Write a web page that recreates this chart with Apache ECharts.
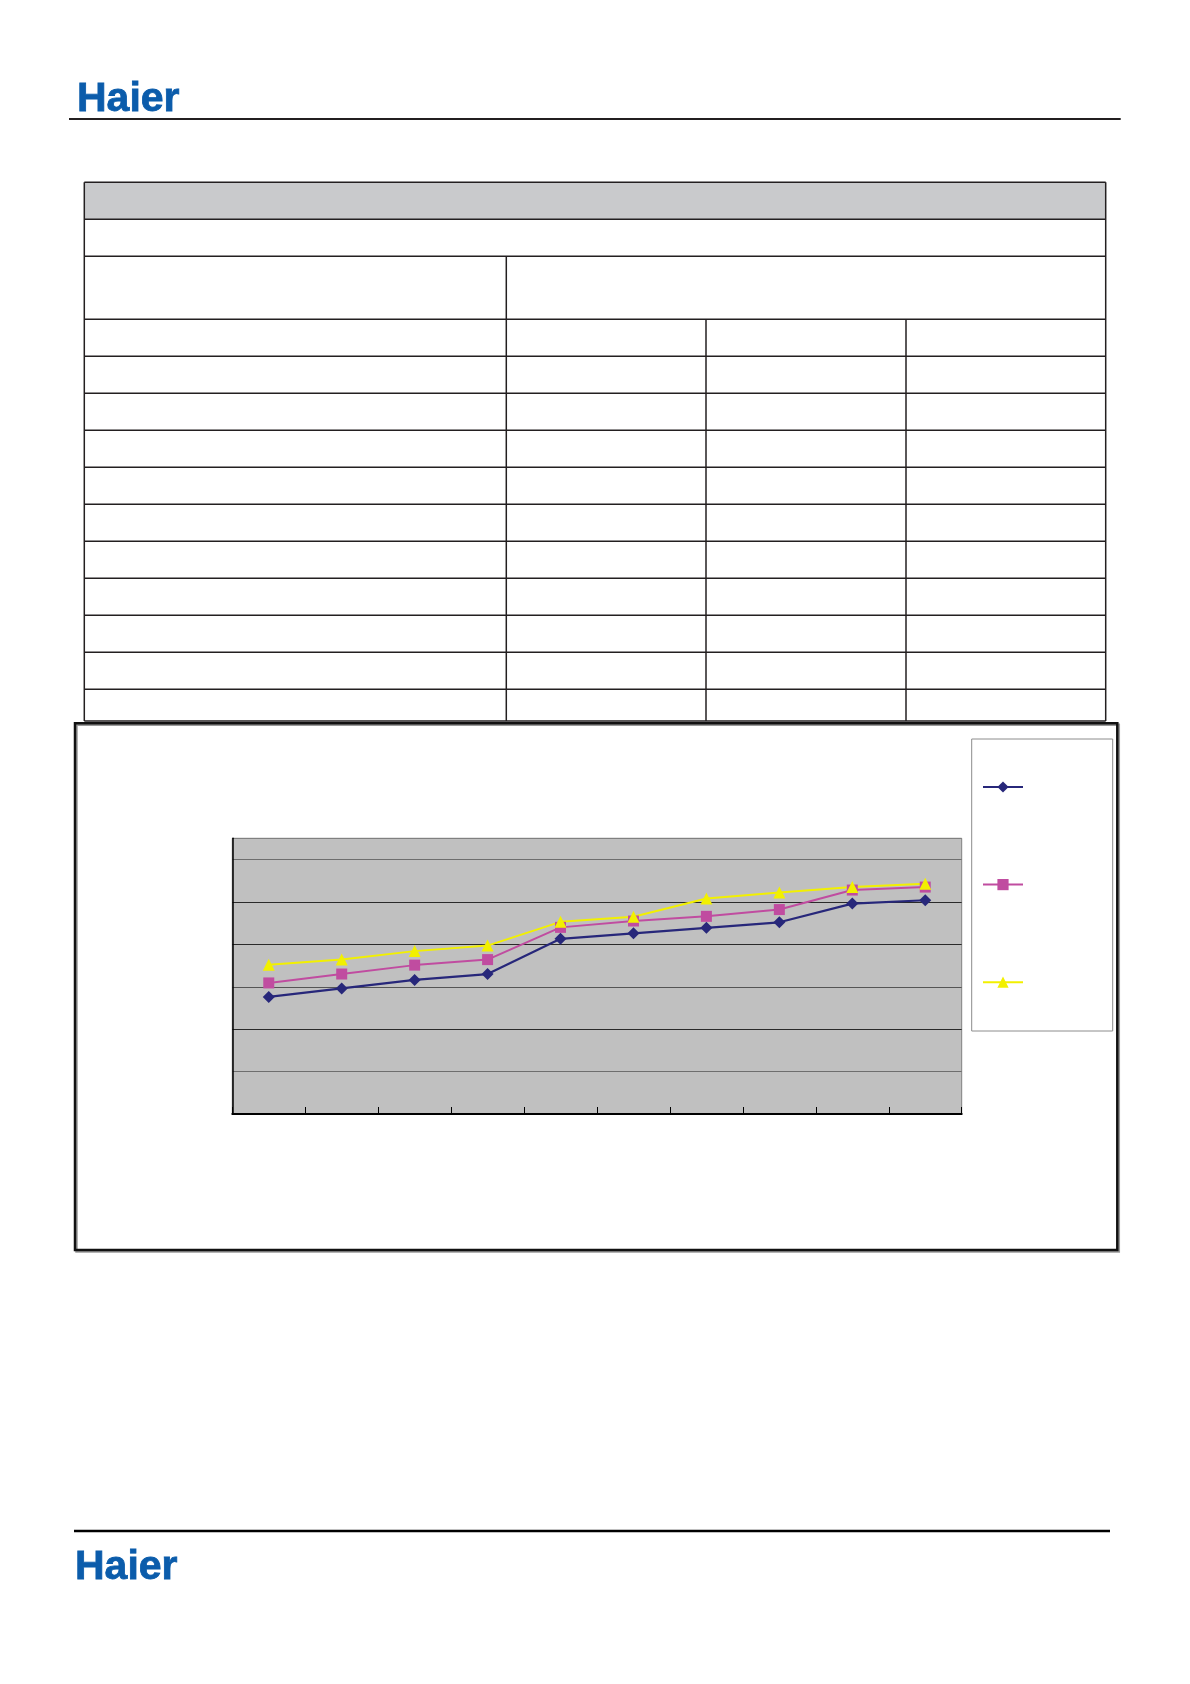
<!DOCTYPE html>
<html>
<head>
<meta charset="utf-8">
<script src="https://cdn.jsdelivr.net/npm/echarts@6/dist/echarts.min.js"></script>
<style>
  html, body { margin: 0; padding: 0; background: #fff; }
  #main { width: 1190px; height: 1684px; }
</style>
</head>
<body>
<div id="main"></div>
<script>
"use strict";

// categories (no labels printed on the sheet)
const categories = ["1", "2", "3", "4", "5", "6", "7", "8", "9", "10"];

// values (gridline step = 1)
const seriesNavy = [2.76, 2.96, 3.16, 3.3, 4.13, 4.26, 4.39, 4.52, 4.96, 5.04];
const seriesMagenta = [3.09, 3.3, 3.51, 3.64, 4.4, 4.55, 4.66, 4.82, 5.28, 5.35];
const seriesYellow = [3.52, 3.64, 3.84, 3.97, 4.53, 4.65, 5.08, 5.22, 5.35, 5.43];

const seriesNames = ["Series 1", "Series 2", "Series 3"];

let chartDom = document.getElementById("main");
let myChart = echarts.init(chartDom);

// page furniture: logo, rules, empty table, frames
const ink = "#231f20";
const tLeft = 84.3, tRight = 1105.7;
const rowLines = [182.3, 219.3, 256.3, 319.3, 356.3, 393.3, 430.3, 467.3, 504.3, 541.3, 578.3, 615.3, 652.3, 689.3, 721];
const tTop = rowLines[0], tBottom = rowLines[rowLines.length - 1];

const furniture = [];
furniture.push({
  type: "rect",
  shape: { x: tLeft, y: rowLines[0], width: tRight - tLeft, height: rowLines[1] - rowLines[0] },
  style: { fill: "#c9cacc" },
  z: 0,
});
rowLines.forEach((y) => {
  furniture.push({
    type: "line",
    shape: { x1: tLeft, y1: y, x2: tRight, y2: y },
    style: { stroke: ink, lineWidth: 1.5 },
    z: 1,
  });
});
[
  [tLeft, tTop],
  [tRight, tTop],
  [506.3, rowLines[2]],
  [706, rowLines[3]],
  [906, rowLines[3]],
].forEach(([x, y0]) => {
  furniture.push({
    type: "line",
    shape: { x1: x, y1: y0, x2: x, y2: tBottom },
    style: { stroke: ink, lineWidth: 1.5 },
    z: 1,
  });
});

function logo(x, y) {
  return {
    type: "text",
    style: {
      x: x,
      y: y,
      text: "Haier",
      font: "bold 41px 'Liberation Sans', Arial, sans-serif",
      fill: "#0b5cab",
      stroke: "#0b5cab",
      lineWidth: 0.8,
      verticalAlign: "middle",
    },
  };
}

furniture.push(logo(77, 100));
furniture.push({
  type: "line",
  shape: { x1: 69, y1: 119, x2: 1120.7, y2: 119 },
  style: { stroke: ink, lineWidth: 2 },
});
// chart frame
furniture.push({
  type: "rect",
  shape: { x: 75, y: 723.3, width: 1042.3, height: 526.7 },
  style: {
    fill: "none",
    stroke: "#111",
    lineWidth: 2.5,
    shadowColor: "#9a9a9a",
    shadowOffsetX: 1.5,
    shadowOffsetY: 1.5,
  },
  z: -1,
});
// legend frame
furniture.push({
  type: "rect",
  shape: { x: 971.7, y: 739, width: 141, height: 292 },
  style: { fill: "#fff", stroke: "#8c8c8c", lineWidth: 1 },
  z: -1,
});
furniture.push({
  type: "line",
  shape: { x1: 74, y1: 1531, x2: 1110, y2: 1531 },
  style: { stroke: "#000", lineWidth: 2.5 },
});
furniture.push(logo(75, 1568));

let option = {
  backgroundColor: "#fff",
  animation: false,
  graphic: furniture,
  legend: {
    orient: "vertical",
    left: 982,
    top: 780,
    padding: 0,
    itemWidth: 40,
    itemHeight: 14,
    itemGap: 85,
    data: seriesNames,
    formatter: () => "",
    selectedMode: false,
  },
  grid: {
    left: 232.3,
    top: 838.3,
    width: 729.4,
    height: 275.7,
    show: true,
    backgroundColor: "#c0c0c0",
    borderColor: "#808080",
    borderWidth: 1,
  },
  xAxis: {
    type: "category",
    data: categories,
    boundaryGap: true,
    axisLine: { lineStyle: { color: "#000", width: 2 } },
    axisTick: { show: true, inside: true, length: 7, lineStyle: { color: "#000", width: 1 } },
    axisLabel: { show: false },
    splitLine: { show: false },
  },
  yAxis: {
    type: "value",
    min: 0,
    max: 6.5,
    interval: 1,
    axisLine: { show: true, lineStyle: { color: "#000", width: 1.5 } },
    axisTick: { show: false },
    axisLabel: { show: false },
    splitLine: {
      show: true,
      lineStyle: {
        color: ["#000", "#6e6e6e", "#2a2a2a", "#555", "#2a2a2a", "#2a2a2a", "#6e6e6e", "#808080"],
        width: 1,
      },
    },
  },
  series: [
    {
      name: seriesNames[0],
      type: "line",
      data: seriesNavy,
      symbol: "diamond",
      symbolSize: 12,
      color: "#27277a",
      lineStyle: { width: 2.2, color: "#27277a" },
      itemStyle: { color: "#27277a" },
    },
    {
      name: seriesNames[1],
      type: "line",
      data: seriesMagenta,
      symbol: "rect",
      symbolSize: 11,
      color: "#c04ca0",
      lineStyle: { width: 2, color: "#c04ca0" },
      itemStyle: { color: "#c04ca0" },
    },
    {
      name: seriesNames[2],
      type: "line",
      data: seriesYellow,
      symbol: "triangle",
      symbolSize: 12,
      color: "#f2f000",
      lineStyle: { width: 2, color: "#f2f000" },
      itemStyle: { color: "#f2f000" },
    },
  ],
};

option && myChart.setOption(option);
</script>
</body>
</html>
